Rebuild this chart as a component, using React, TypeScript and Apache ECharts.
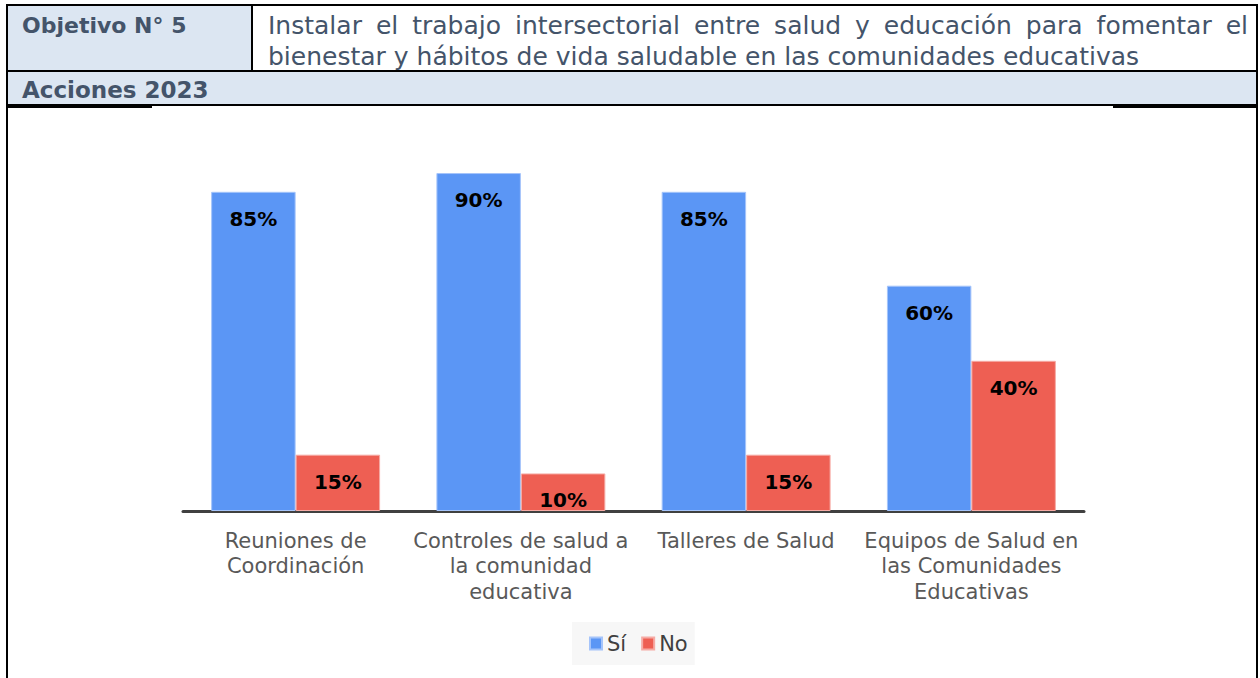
import React, { useEffect, useRef } from 'react';
import * as echarts from 'echarts';

const categories = [
  'Reuniones de\nCoordinación',
  'Controles de salud a\nla comunidad\neducativa',
  'Talleres de Salud',
  'Equipos de Salud en\nlas Comunidades\nEducativas',
];
const siValues = [0.85, 0.9, 0.85, 0.6];
const noValues = [0.15, 0.1, 0.15, 0.4];
const seriesNames = ['Sí', 'No'];

const objetivoLabel = 'Objetivo N° 5';
const objetivoLine1 = 'Instalar el trabajo intersectorial entre salud y educación para fomentar el';
const objetivoLine2 = 'bienestar y hábitos de vida saludable en las comunidades educativas';
const accionesLabel = 'Acciones 2023';

const W = 1260;
const H = 678;
const FONT = '"DejaVu Sans", sans-serif';
const HEAD_COLOR = '#44546A';
const HEAD_BG = '#DCE6F2';

function measure(s: string, font: string): number {
  const ctx = document.createElement('canvas').getContext('2d')!;
  ctx.font = font;
  return ctx.measureText(s).width;
}

export default function App() {
  const ref = useRef<HTMLDivElement>(null);
  useEffect(() => {
    document.body.style.margin = '0';
    const chart = echarts.init(ref.current!, null, { renderer: 'svg', width: W, height: H });

    const headSize = 25;
    const headFont = `${headSize}px "DejaVu Sans"`;
    const words = objetivoLine1.split(' ');
    const widths = words.map((w) => measure(w, headFont));
    const x0 = 268;
    const x1 = 1248;
    const total = widths.reduce((a, b) => a + b, 0);
    const minGap = measure(' ', headFont) * 0.6;
    const gap = Math.max(minGap, (x1 - x0 - total) / (words.length - 1));
    let cx = x0;
    const wordEls: any[] = words.map((w, i) => {
      const el = {
        type: 'text',
        x: cx,
        y: 25,
        z: 5,
        style: { text: w, font: headFont, fill: HEAD_COLOR, verticalAlign: 'middle', align: 'left' },
      };
      cx += widths[i] + gap;
      return el;
    });

    const line = (x1: number, y1: number, x2: number, y2: number, w = 2) => ({
      type: 'line',
      shape: { x1, y1, x2, y2 },
      style: { stroke: '#000', lineWidth: w },
      z: 10,
    });

    const barLabel = {
      show: true,
      position: 'insideTop',
      distance: 17,
      formatter: (p: any) => Math.round(p.value * 100) + '%',
      fontFamily: FONT,
      fontWeight: 'bold',
      fontSize: 20,
      color: '#000',
    };

    const option: any = {
      animation: false,
      backgroundColor: '#fff',
      grid: { left: 183, right: W - 1084, top: 135.5, bottom: H - 511, containLabel: false },
      legend: {
        data: seriesNames,
        left: 572,
        top: 622,
        icon: 'rect',
        itemWidth: 12,
        itemHeight: 12,
        itemGap: 15,
        backgroundColor: '#F7F7F7',
        padding: [11, 7, 11, 17],
        textStyle: { fontFamily: FONT, fontSize: 21, color: '#404040' },
      },
      xAxis: {
        type: 'category',
        data: categories,
        axisLine: { show: true, lineStyle: { color: '#404040', width: 3 } },
        axisTick: { show: false },
        axisLabel: {
          interval: 0,
          margin: 17,
          fontFamily: FONT,
          fontSize: 21,
          lineHeight: 25.5,
          color: '#595959',
          align: 'center',
        },
      },
      yAxis: { type: 'value', min: 0, max: 1, show: false, splitLine: { show: false } },
      series: [
        {
          name: seriesNames[0],
          type: 'bar',
          data: siValues,
          barGap: '0%',
          barCategoryGap: '25%',
          itemStyle: { color: '#5B96F5', borderColor: '#A5C4FA', borderWidth: 1 },
          label: barLabel,
        },
        {
          name: seriesNames[1],
          type: 'bar',
          data: noValues,
          barGap: '0%',
          barCategoryGap: '25%',
          itemStyle: { color: '#EE5F53', borderColor: '#F6ABA5', borderWidth: 1 },
          label: barLabel,
        },
      ],
      graphic: [
        { type: 'rect', shape: { x: 8, y: 6, width: 244, height: 65 }, style: { fill: HEAD_BG }, z: 1 },
        { type: 'rect', shape: { x: 8, y: 71, width: 1249, height: 34 }, style: { fill: HEAD_BG }, z: 1 },
        line(6, 5, 1258, 5),
        line(7, 4, 7, H),
        line(1257, 4, 1257, H),
        line(252, 5, 252, 71),
        line(6, 71, 1258, 71),
        line(6, 105, 1258, 105),
        line(8, 107, 152, 107, 2),
        line(1113, 107, 1257, 107, 2),
        {
          type: 'text',
          x: 22,
          y: 25,
          z: 5,
          style: { text: objetivoLabel, font: `bold 22px "DejaVu Sans"`, fill: HEAD_COLOR, verticalAlign: 'middle' },
        },
        ...wordEls,
        {
          type: 'text',
          x: x0,
          y: 56,
          z: 5,
          style: { text: objetivoLine2, font: headFont, fill: HEAD_COLOR, verticalAlign: 'middle' },
        },
        {
          type: 'text',
          x: 22,
          y: 90,
          z: 5,
          style: { text: accionesLabel, font: `bold 23px "DejaVu Sans"`, fill: HEAD_COLOR, verticalAlign: 'middle' },
        },
      ],
    };
    chart.setOption(option);
    return () => chart.dispose();
  }, []);
  return <div ref={ref} style={{ width: W, height: H }} />;
}
